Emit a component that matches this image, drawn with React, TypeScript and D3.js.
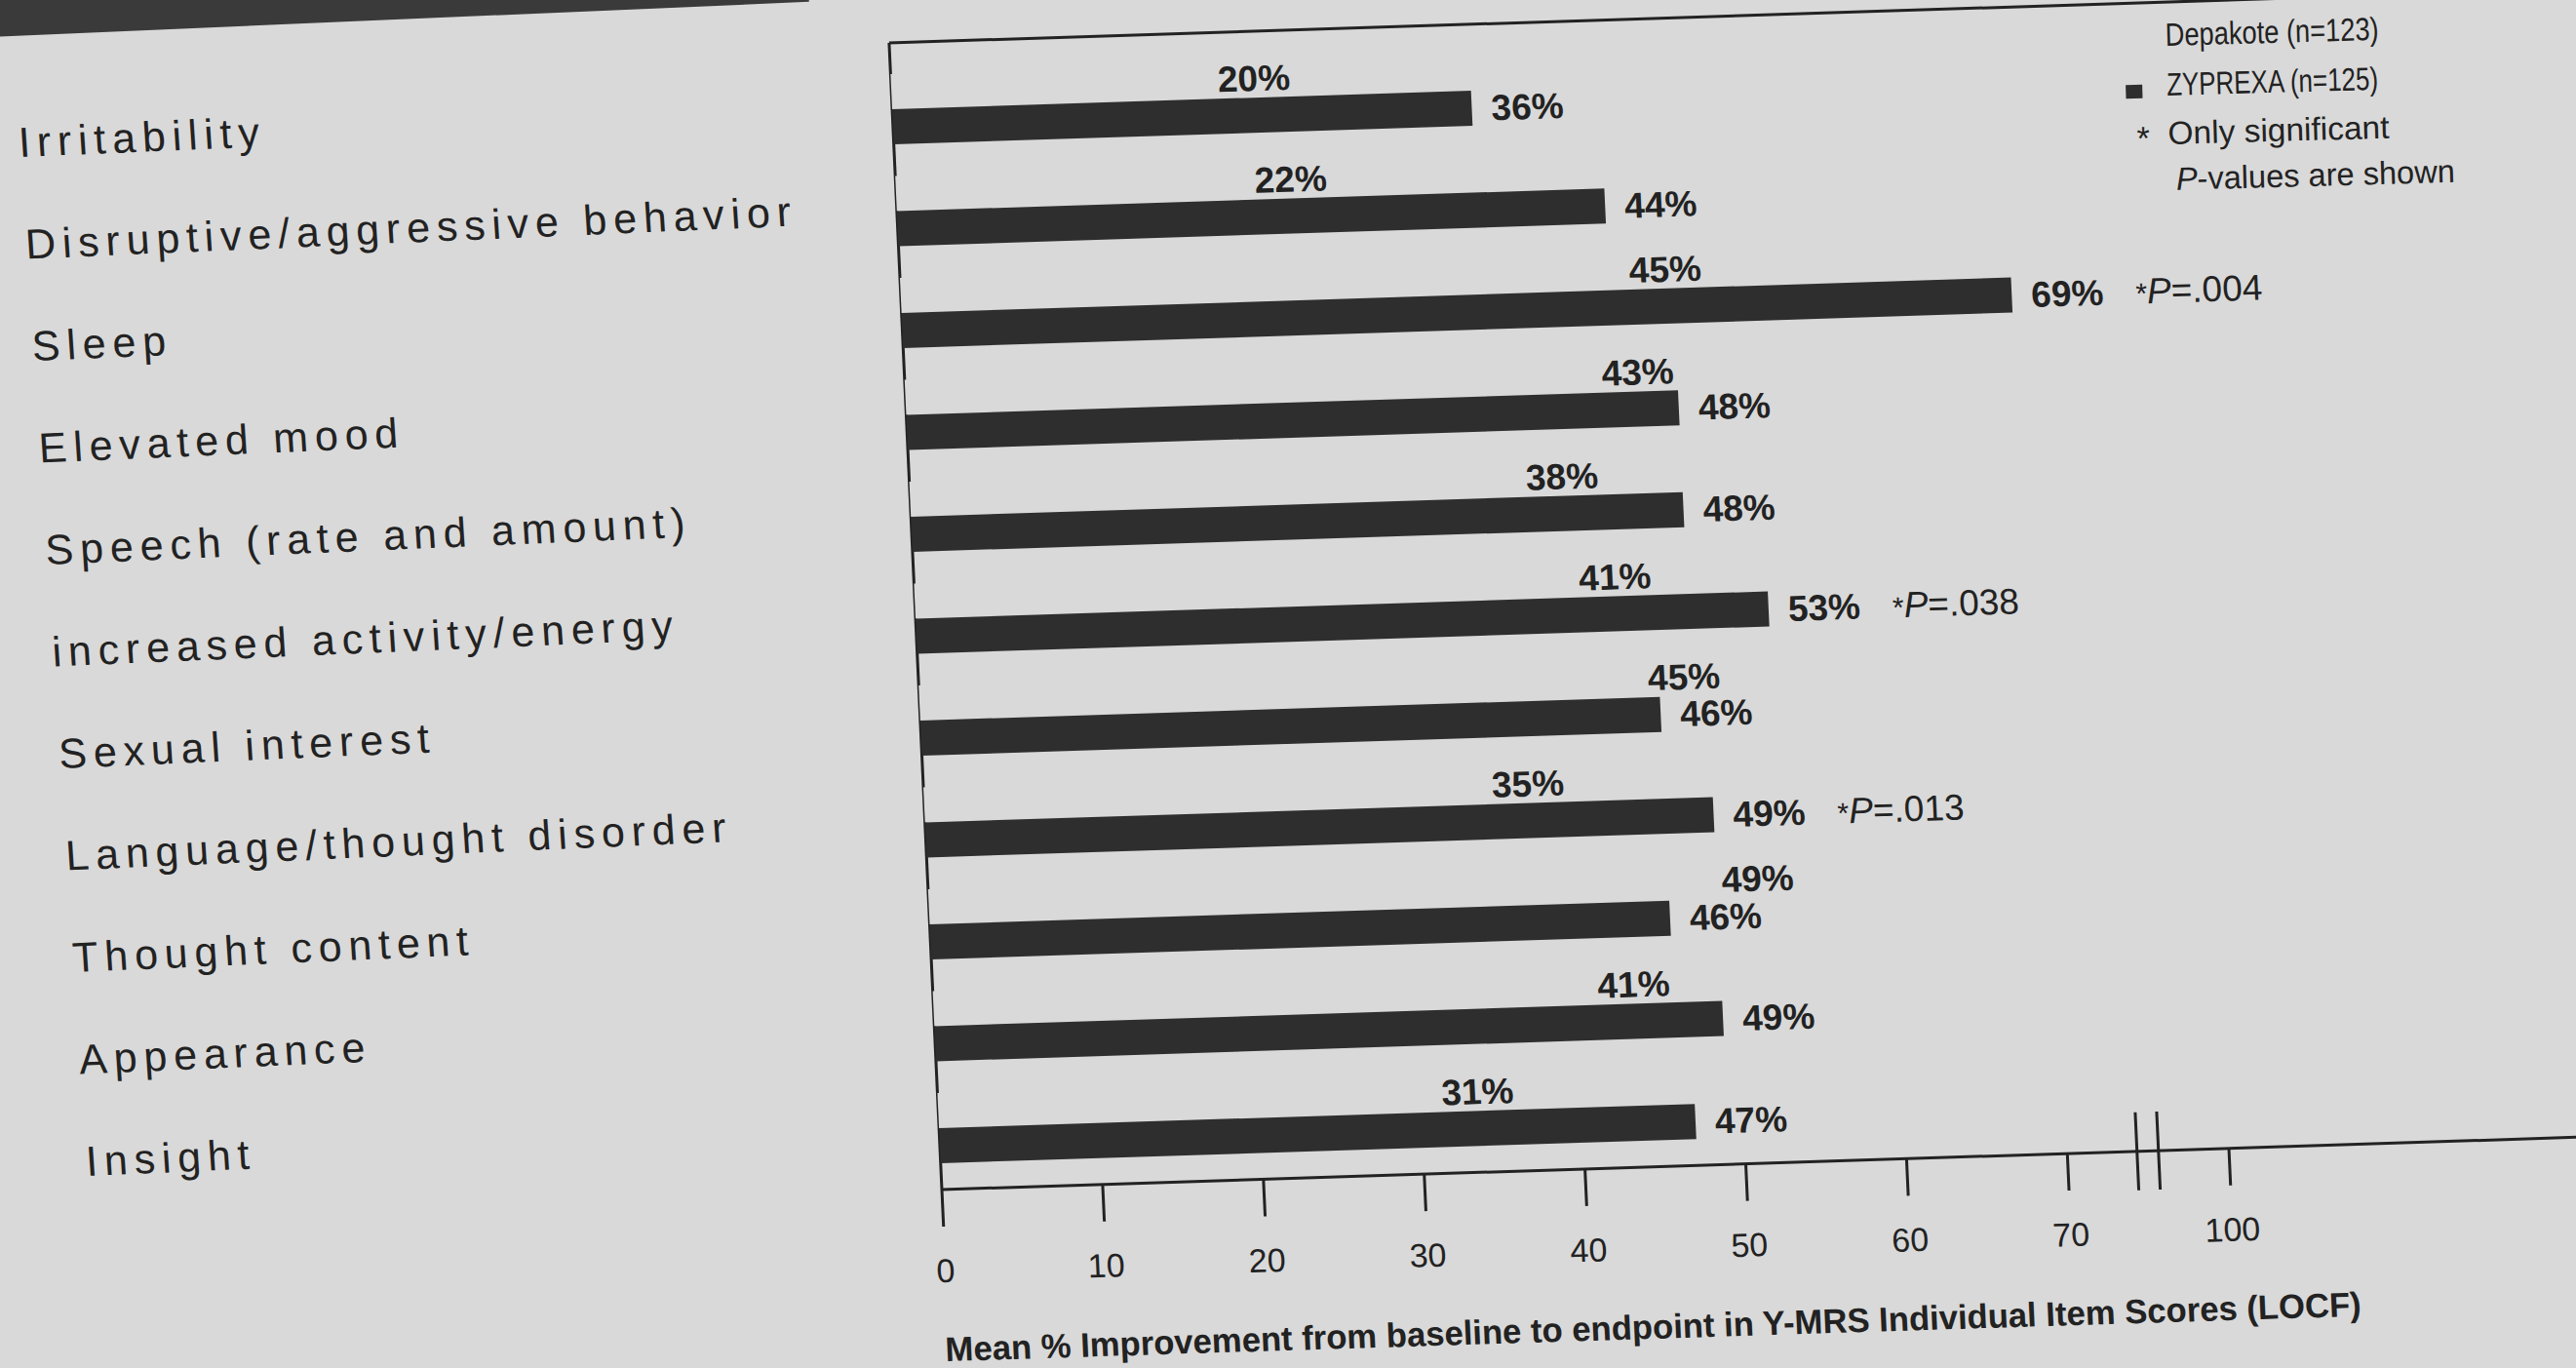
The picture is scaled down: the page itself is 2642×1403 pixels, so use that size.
import * as d3 from "d3";
import { useEffect } from "react";

// values
const categories = [
  "Irritability",
  "Disruptive/aggressive behavior",
  "Sleep",
  "Elevated mood",
  "Speech (rate and amount)",
  "increased activity/energy",
  "Sexual interest",
  "Language/thought disorder",
  "Thought content",
  "Appearance",
  "Insight",
];
const depakote = [20, 22, 45, 43, 38, 41, 45, 35, 49, 41, 31];
const zyprexa = [36, 44, 69, 48, 48, 53, 46, 49, 46, 49, 47];
const pValues = [null, null, ".004", null, null, ".038", null, ".013", null, null, null];
const seriesNames = ["Depakote", "ZYPREXA"];
const legendLabels = ["Depakote (n=123)", "ZYPREXA (n=125)"];
const xTicks = [0, 10, 20, 30, 40, 50, 60, 70, 100];
const axisTitle =
  "Mean % Improvement from baseline to endpoint in Y-MRS Individual Item Scores (LOCF)";

const W = 2642;
const H = 1403;
const plotH = 1176;
const unit = 16.49; // px per percent before the axis break
const bg = "#d9d9d9";
const ink = "#222";
const barInk = "#2e2e2e";

export default function App() {
  useEffect(() => {
    document.body.style.margin = "0";
    document.body.style.overflow = "hidden";
  }, []);

  const x = d3
    .scaleLinear()
    .domain([0, 75, 100])
    .range([0, 75 * unit, 1320]);

  const y = d3
    .scaleBand<string>()
    .domain(categories)
    .range([-plotH, 0])
    .paddingInner(0.311)
    .paddingOuter(0.2825)
    .align(0.542);

  const sub = d3
    .scaleBand<string>()
    .domain(seriesNames)
    .range([0, y.bandwidth()]);

  const rows = categories.map((c, i) => ({
    cat: c,
    d: depakote[i],
    z: zyprexa[i],
    p: pValues[i],
    top: y(c) ?? 0,
  }));

  const bw = sub.bandwidth();
  const zTop = sub("ZYPREXA") ?? 0;
  const dTop = sub("Depakote") ?? 0;
  const font = "'Liberation Sans', Arial, Helvetica, sans-serif";

  return (
    <svg width={W} height={H} style={{ display: "block" }} fontFamily={font}>
      <rect width={W} height={H} fill={bg} />

      {/* category labels, page is photographed at a slight slant */}
      <g transform="translate(91,1237) matrix(1,-0.043,0.066,1,0,0)">
        <rect x={-300} y={-1500} width={1118} height={300} fill="#3a3a3a" />
        {rows.map((r) => (
          <text
            key={r.cat}
            x={0}
            y={r.top + zTop + bw / 2 + 14}
            fontSize={43}
            letterSpacing={6.8}
            fill={ink}
          >
            {r.cat}
          </text>
        ))}
      </g>

      {/* plot */}
      <g transform="translate(966,1220) matrix(1,-0.032,0.046,1,0,0)">
        <line x1={0} y1={-plotH} x2={1900} y2={-plotH} stroke={ink} strokeWidth={3} />
        <line x1={0} y1={-plotH} x2={0} y2={0} stroke={ink} strokeWidth={3} />
        <line x1={0} y1={0} x2={1900} y2={0} stroke={ink} strokeWidth={3} />

        {rows.map((r) => (
          <g key={r.cat}>
            <rect x={0} y={r.top + dTop} width={x(r.d)} height={bw} fill={bg} />
            <rect x={0} y={r.top + zTop} width={x(r.z)} height={bw} fill={barInk} />
            <text
              x={x(r.d) + 5}
              y={r.top + zTop - 7}
              fontSize={37}
              fontWeight="bold"
              fill={ink}
            >
              {r.d}%
            </text>
            <text
              x={x(r.z) + 20}
              y={r.top + zTop + bw / 2 + 13}
              fontSize={37}
              fontWeight="bold"
              fill={ink}
            >
              {r.z}%
            </text>
            {r.p && (
              <text x={x(r.z) + 127} y={r.top + zTop + bw / 2 + 13} fontSize={37} fill={ink}>
                <tspan fontSize={30}>*</tspan>
                <tspan fontStyle="italic">P</tspan>={r.p}
              </text>
            )}
          </g>
        ))}

        {xTicks.map((t) => (
          <g key={t} transform={`translate(${x(t)},0)`}>
            <line y1={0} y2={38} stroke={ink} strokeWidth={3} />
            <text y={95} textAnchor="middle" fontSize={34} fill={ink}>
              {t}
            </text>
          </g>
        ))}
        {[-11, 11].map((dx) => (
          <line
            key={dx}
            x1={x(75) + dx}
            x2={x(75) + dx}
            y1={-40}
            y2={40}
            stroke={ink}
            strokeWidth={3}
          />
        ))}

        <text
          x={-4}
          y={176}
          fontSize={35}
          fontWeight="bold"
          textLength={1452}
          lengthAdjust="spacingAndGlyphs"
          fill={ink}
        >
          {axisTitle}
        </text>
      </g>

      {/* legend */}
      <g transform="translate(2221,47) rotate(-1.6)" fontSize={33} fill={ink}>
        <rect x={-42} y={-12} width={17} height={14} fill={bg} />
        <text x={0} y={0} textLength={219} lengthAdjust="spacingAndGlyphs">
          {legendLabels[0]}
        </text>
        <rect x={-42} y={39} width={17} height={14} fill={barInk} />
        <text x={0} y={51} textLength={217} lengthAdjust="spacingAndGlyphs">
          {legendLabels[1]}
        </text>
        <text x={-32} y={106} fontSize={34}>
          *
        </text>
        <text x={0} y={101} textLength={227} lengthAdjust="spacingAndGlyphs">
          Only significant
        </text>
        <text x={7} y={148} textLength={286} lengthAdjust="spacingAndGlyphs">
          <tspan fontStyle="italic">P</tspan>-values are shown
        </text>
      </g>
    </svg>
  );
}
